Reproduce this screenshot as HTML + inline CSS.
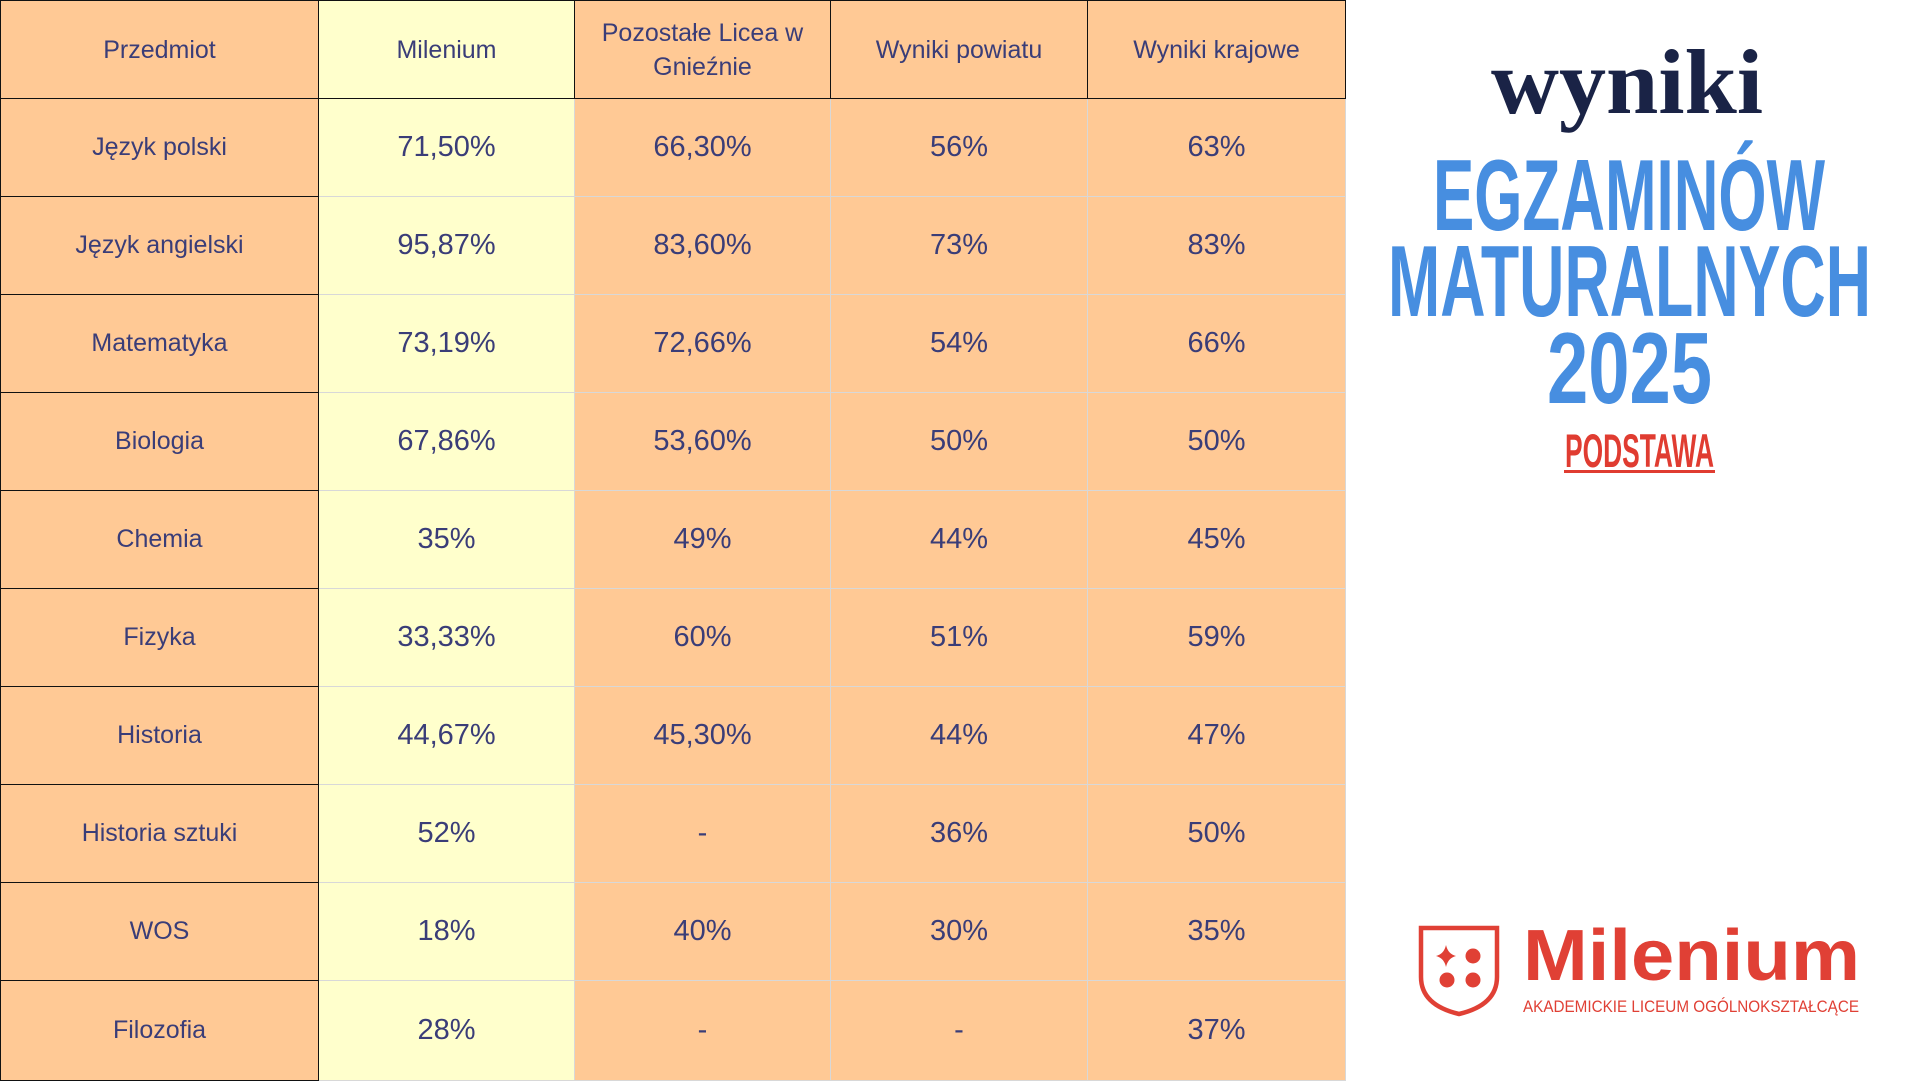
<!DOCTYPE html>
<html><head><meta charset="utf-8"><style>
body{margin:0;width:1920px;height:1080px;background:#fff;overflow:hidden;position:relative;font-family:"Liberation Sans",sans-serif;}
table{position:absolute;left:0;top:0;border-collapse:collapse;table-layout:fixed;width:1345px;}
td{height:97px;padding:0;text-align:center;vertical-align:middle;color:#3a3d78;font-size:29px;background:#ffc995;border:1px solid #d8d8d8;}
td.y{background:#ffffcc;}
td.s{font-size:25px;border:1.5px solid #111;}
tr.h td{font-size:25px;border:1.5px solid #111;line-height:34px;}
tr:last-child td{height:99px;}
</style></head><body>
<table>
<colgroup><col style="width:318px"><col style="width:256px"><col style="width:256px"><col style="width:257px"><col style="width:258px"></colgroup>
<tr class="h"><td>Przedmiot</td><td class="y">Milenium</td><td>Pozostałe Licea w<br>Gnieźnie</td><td>Wyniki powiatu</td><td>Wyniki krajowe</td></tr>
<tr><td class="s">Język polski</td><td class="y">71,50%</td><td>66,30%</td><td>56%</td><td>63%</td></tr>
<tr><td class="s">Język angielski</td><td class="y">95,87%</td><td>83,60%</td><td>73%</td><td>83%</td></tr>
<tr><td class="s">Matematyka</td><td class="y">73,19%</td><td>72,66%</td><td>54%</td><td>66%</td></tr>
<tr><td class="s">Biologia</td><td class="y">67,86%</td><td>53,60%</td><td>50%</td><td>50%</td></tr>
<tr><td class="s">Chemia</td><td class="y">35%</td><td>49%</td><td>44%</td><td>45%</td></tr>
<tr><td class="s">Fizyka</td><td class="y">33,33%</td><td>60%</td><td>51%</td><td>59%</td></tr>
<tr><td class="s">Historia</td><td class="y">44,67%</td><td>45,30%</td><td>44%</td><td>47%</td></tr>
<tr><td class="s">Historia sztuki</td><td class="y">52%</td><td>-</td><td>36%</td><td>50%</td></tr>
<tr><td class="s">WOS</td><td class="y">18%</td><td>40%</td><td>30%</td><td>35%</td></tr>
<tr><td class="s">Filozofia</td><td class="y">28%</td><td>-</td><td>-</td><td>37%</td></tr>
</table>
<svg width="1920" height="1080" style="position:absolute;left:0;top:0">
<text x="1491" y="113" textLength="272" lengthAdjust="spacingAndGlyphs" font-family="Liberation Serif, serif" font-weight="bold" font-size="92" fill="#1a2346">wyniki</text>
<g font-family="Liberation Sans, sans-serif" font-weight="bold" fill="#478ee0">
<text x="1433" y="230" textLength="392" lengthAdjust="spacingAndGlyphs" font-size="101">EGZAMINÓW</text>
<text x="1388" y="316" textLength="483" lengthAdjust="spacingAndGlyphs" font-size="101">MATURALNYCH</text>
<text x="1547" y="403" textLength="165" lengthAdjust="spacingAndGlyphs" font-size="101">2025</text>
</g>
<text x="1565" y="467" textLength="149" lengthAdjust="spacingAndGlyphs" font-family="Liberation Sans, sans-serif" font-weight="bold" font-size="47" fill="#e03c31">PODSTAWA</text>
<rect x="1564" y="470" width="151" height="3" fill="#e03c31"/>
<path d="M1421 928 H1497 V977 Q1497 1005 1459 1014 Q1421 1005 1421 977 Z" fill="none" stroke="#e04035" stroke-width="4.5"/>
<circle cx="1473" cy="956" r="7.5" fill="#e04035"/><circle cx="1447" cy="980" r="7.5" fill="#e04035"/><circle cx="1473" cy="980" r="7.5" fill="#e04035"/>
<path d="M1446 945 Q1448 954 1456 956 Q1448 958 1446 967 Q1444 958 1436 956 Q1444 954 1446 945Z" fill="#e04035"/>
<text x="1523" y="980" textLength="337" lengthAdjust="spacingAndGlyphs" font-family="Liberation Sans, sans-serif" font-weight="bold" font-size="72" fill="#e04035">Milenium</text>
<text x="1523" y="1012" textLength="336" lengthAdjust="spacingAndGlyphs" font-family="Liberation Sans, sans-serif" font-size="17" fill="#e04035">AKADEMICKIE LICEUM OGÓLNOKSZTAŁCĄCE</text>
</svg>
</body></html>
